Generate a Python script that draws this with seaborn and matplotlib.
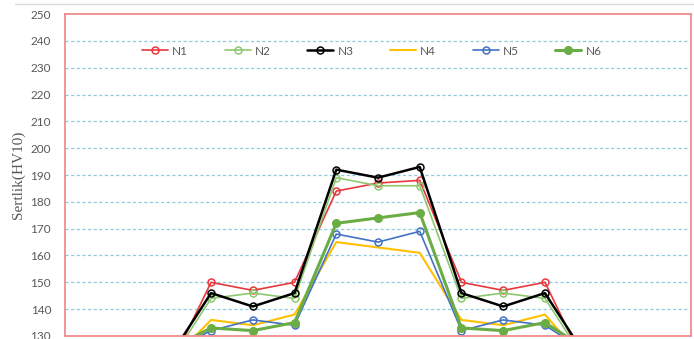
import numpy as np
import pandas as pd
import matplotlib
matplotlib.use("Agg")
import matplotlib.pyplot as plt
import seaborn as sns
from matplotlib.lines import Line2D

# Hardness profile values (only 130-250 window is visible in the reference)
positions = list(range(15))
n1 = [117, 117, 118, 150, 147, 150, 184, 187, 188, 150, 147, 150, 118, 117, 117]
n2 = [119, 119, 120, 144, 146, 144, 189, 186, 186, 144, 146, 144, 120, 119, 119]
n3 = [121, 121, 122, 146, 141, 146, 192, 189, 193, 146, 141, 146, 122, 121, 121]
n4 = [119, 119, 120, 136, 134, 138, 165, 163, 161, 136, 134, 138, 120, 119, 119]
n5 = [123, 123, 124, 132, 136, 134, 168, 165, 169, 132, 136, 134, 124, 123, 123]
n6 = [124, 124, 125, 133, 132, 135, 172, 174, 176, 133, 132, 135, 125, 124, 124]

series_names = ["N1", "N2", "N3", "N4", "N5", "N6"]
series_values = [n1, n2, n3, n4, n5, n6]

df = pd.DataFrame({"pos": positions * 6,
                   "seri": np.repeat(series_names, len(positions)),
                   "sertlik": np.concatenate(series_values)})

sns.set_style("white")
plt.rcParams["font.family"] = ["Lato", "DejaVu Sans"]

fig = plt.figure(figsize=(6.94, 3.39), dpi=100)
ax = fig.add_axes([65 / 694, 3 / 339, 626 / 694, 322 / 339])

styles = {
    "N1": dict(color="#E8383D", lw=1.2, marker="o", ms=5, mfc="none", mew=1.1),
    "N2": dict(color="#8DC86E", lw=1.2, marker="o", ms=5, mfc="none", mew=1.1),
    "N3": dict(color="#000000", lw=1.8, marker="o", ms=5, mfc="none", mew=1.1),
    "N4": dict(color="#FFC000", lw=1.5, marker=None),
    "N5": dict(color="#4472C4", lw=1.2, marker="o", ms=5, mfc="none", mew=1.1),
    "N6": dict(color="#6AAD45", lw=2.2, marker="o", ms=5.5),
}

for name in series_names:
    sub = df[df["seri"] == name]
    st = styles[name]
    sns.lineplot(data=sub, x="pos", y="sertlik", ax=ax, label=name,
                 color=st["color"], linewidth=st["lw"], marker=st["marker"],
                 markersize=st.get("ms", 5), markerfacecolor=st.get("mfc", st["color"]),
                 markeredgecolor=st["color"], markeredgewidth=st.get("mew", 1.0))

ax.set_xlim(-0.5, 14.5)
ax.set_ylim(130, 250)
ax.set_yticks(range(130, 251, 10))
ax.set_xticks([])
ax.set_xlabel("")
ax.set_ylabel("Sertlik(HV10)", family=["Liberation Serif"], fontsize=11, color="#595959")
ax.tick_params(axis="y", length=0, pad=10, labelsize=8.5, labelcolor="#595959")

for yv in range(140, 250, 10):
    ax.axhline(yv, color="#8EC9DF", lw=0.9, ls=(0, (2.5, 2)), zorder=0)

for sp in ax.spines.values():
    sp.set_color("#F08C8C")
    sp.set_linewidth(1.3)
    sp.set_visible(True)

leg = ax.legend(ncol=6, loc="center", bbox_to_anchor=(0.49, 0.885), frameon=False,
                handlelength=2.2, handletextpad=0.35, columnspacing=3.1,
                fontsize=8.5)
for t in leg.get_texts():
    t.set_color("#595959")

fig.add_artist(Line2D([15 / 694, 1], [1 - 4 / 339, 1 - 4 / 339], color="#D9D9D9", lw=1))

fig.savefig("out.png", dpi=100)
